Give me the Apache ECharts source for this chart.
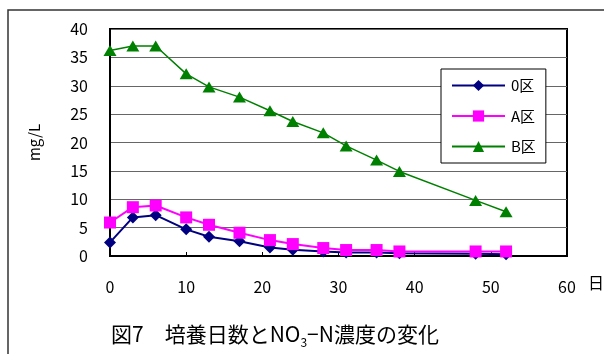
<!DOCTYPE html>
<html><head><meta charset="utf-8">
<script src="https://cdn.jsdelivr.net/npm/echarts@6/dist/echarts.min.js"></script>
<style>html,body{margin:0;padding:0;background:#fff}#c{width:604px;height:354px}</style>
</head><body><div id="c"></div>
<script>
var days = [0, 3, 6, 10, 13, 17, 21, 24, 28, 31, 35, 38, 48, 52];
var ku0 = [2.4, 6.8, 7.2, 4.7, 3.4, 2.6, 1.5, 1.1, 0.8, 0.6, 0.6, 0.5, 0.4, 0.3];
var kuA = [5.9, 8.6, 8.9, 6.8, 5.5, 4.1, 2.8, 2.1, 1.4, 1.05, 1.05, 0.8, 0.8, 0.8];
var kuB = [36.2, 37.0, 37.0, 32.1, 29.8, 28.0, 25.6, 23.7, 21.7, 19.4, 16.9, 14.9, 9.8, 7.8];
var seriesNames = ['0区', 'A区', 'B区'];
var yTicks = [0, 5, 10, 15, 20, 25, 30, 35, 40];
var xTicks = [0, 10, 20, 30, 40, 50, 60];

function pairs(v) { return days.map(function (d, i) { return [d, v[i]]; }); }
var FF = '"Noto Sans CJK JP", sans-serif';
var chart = echarts.init(document.getElementById('c'));
chart.setOption({
  animation: false,
  backgroundColor: '#fff',
  textStyle: { fontFamily: FF },
  grid: { left: 110, right: 37, top: 29, bottom: 98, show: true, borderColor: '#000', borderWidth: 2, containLabel: false },
  graphic: [
    { type: 'rect', shape: { x: 8, y: 10, width: 700, height: 500 }, style: { fill: 'none', stroke: '#333', lineWidth: 1.5 }, silent: true },
    { type: 'text', left: 588, top: 275, style: { text: '日', fontSize: 16, fill: '#000', fontFamily: FF } }
  ],
  title: {
    left: 106, top: 315,
    text: '{a|図7　培養日数とNO}{s|3}{a|−N濃度の変化}',
    textStyle: {
      fontWeight: 'normal',
      rich: {
        a: { fontSize: 21, color: '#000', fontFamily: FF, fontWeight: 'normal', lineHeight: 28 },
        s: { fontSize: 12, color: '#000', fontFamily: FF, fontWeight: 'normal', verticalAlign: 'bottom', lineHeight: 28, padding: [5, 0, 0, 0] }
      }
    }
  },
  legend: {
    data: seriesNames,
    orient: 'vertical',
    left: 441, top: 69,
    width: 108,
    padding: [9, 10, 9, 10],
    itemWidth: 53, itemHeight: 14, itemGap: 15.5,
    backgroundColor: '#fff',
    borderColor: '#000', borderWidth: 1,
    textStyle: { fontSize: 15, color: '#000', fontFamily: FF, padding: [0, 0, 0, 1] }
  },
  xAxis: {
    type: 'value', min: 0, max: 60, interval: 10,
    axisLine: { show: true, lineStyle: { color: '#000', width: 2 } },
    axisTick: { show: true, inside: true, length: 4, lineStyle: { color: '#000' } },
    axisLabel: { fontSize: 16, color: '#000', margin: 23, fontFamily: FF,
      formatter: function (v) { return xTicks.indexOf(v) >= 0 ? String(v) : ''; } },
    splitLine: { show: false }
  },
  yAxis: {
    type: 'value', min: 0, max: 40, interval: 5,
    name: 'mg/L', nameLocation: 'middle', nameGap: 68, nameRotate: 90,
    nameTextStyle: { fontSize: 15, color: '#000', fontFamily: FF },
    axisLine: { show: true, lineStyle: { color: '#000', width: 2 } },
    axisTick: { show: false },
    axisLabel: { fontSize: 16, color: '#000', margin: 22, fontFamily: FF,
      formatter: function (v) { return yTicks.indexOf(v) >= 0 ? String(v) : ''; } },
    splitLine: { show: true, lineStyle: { color: '#666', width: 1 } }
  },
  series: [
    { name: seriesNames[0], type: 'line', data: pairs(ku0), symbol: 'diamond', symbolSize: 12,
      itemStyle: { color: '#000080' }, lineStyle: { color: '#000080', width: 2 } },
    { name: seriesNames[1], type: 'line', data: pairs(kuA), symbol: 'rect', symbolSize: 12,
      itemStyle: { color: '#FF00FF' }, lineStyle: { color: '#FF00FF', width: 2 } },
    { name: seriesNames[2], type: 'line', data: pairs(kuB), symbol: 'triangle', symbolSize: [13, 11],
      itemStyle: { color: '#008000' }, lineStyle: { color: '#008000', width: 1.5 } }
  ]
});
</script></body></html>
